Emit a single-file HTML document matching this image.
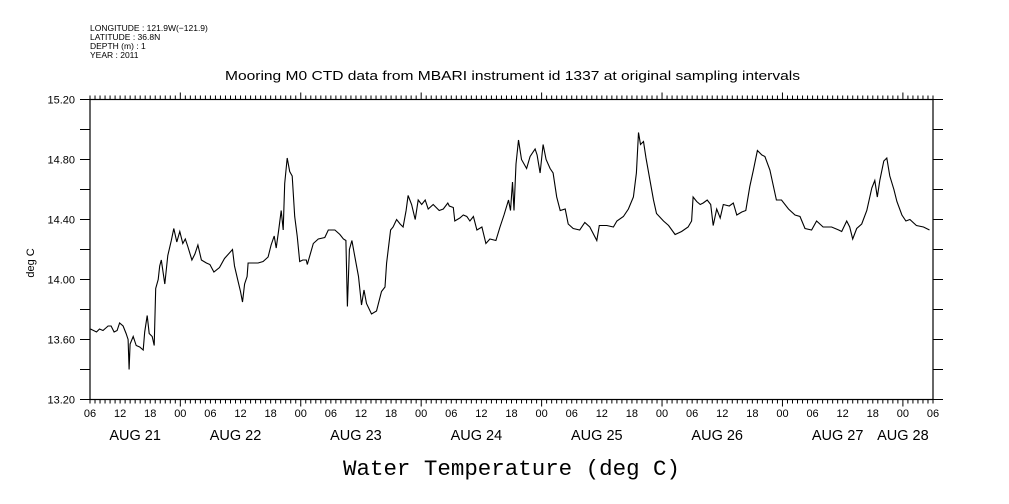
<!DOCTYPE html>
<html><head><meta charset="utf-8">
<style>
html,body{margin:0;padding:0;background:#fff;}
svg{display:block;}
text{fill:#000;}
</style></head>
<body>
<svg id="chart" width="1009" height="504" viewBox="0 0 1009 504" xmlns="http://www.w3.org/2000/svg">
  <g font-family="Liberation Sans, sans-serif" font-size="8.5">
    <text x="90" y="31">LONGITUDE : 121.9W(−121.9)</text>
    <text x="90" y="40">LATITUDE : 36.8N</text>
    <text x="90" y="49">DEPTH (m) : 1</text>
    <text x="90" y="58">YEAR : 2011</text>
  </g>
  <text x="225" y="80" textLength="575" lengthAdjust="spacingAndGlyphs" font-family="Liberation Sans, sans-serif" font-size="12.5">Mooring M0 CTD data from MBARI instrument id 1337 at original sampling intervals</text>
  <text transform="translate(34,263) rotate(-90)" text-anchor="middle" font-family="Liberation Sans, sans-serif" font-size="11">deg C</text>
  <text x="343" y="475" textLength="337" lengthAdjust="spacingAndGlyphs" font-family="Liberation Mono, monospace" font-size="22">Water Temperature (deg C)</text>
  <g id="axes"></g>
  <g id="series"></g>
</svg>
<script>
// Data: hours since Aug 21 06:00 (2011) and water temperature (deg C)
const hours = [0.1,1.3,1.9,2.6,3.6,4.2,4.8,5.4,5.9,6.6,7.2,7.6,7.8,8.0,8.6,9.2,9.9,10.6,10.9,11.4,11.8,12.4,12.8,13.1,13.6,13.9,14.2,14.9,15.5,16.2,16.7,17.3,17.9,18.5,19.0,19.5,20.3,20.9,21.5,22.2,23.2,23.9,24.7,25.8,26.8,28.4,28.8,29.5,30.0,30.4,30.8,31.3,31.5,32.5,33.5,34.5,35.5,36.1,36.7,37.1,37.6,38.1,38.5,38.8,39.3,39.8,40.3,40.8,41.3,41.8,42.4,43.1,43.3,
44.5,45.5,46.8,47.5,48.8,49.8,50.5,51.0,51.3,51.7,52.2,52.8,53.5,54.1,54.6,55.1,56.1,57.1,58.1,58.8,59.1,59.5,59.9,60.4,61.1,61.8,62.4,63.0,63.4,64.1,64.8,65.4,66.1,66.8,67.4,68.4,69.6,70.4,71.3,71.6,72.4,72.7,73.7,74.4,75.1,75.7,76.4,77.1,78.1,78.9,79.7,80.9,81.7,82.5,83.4,83.8,84.2,84.5,84.9,
85.4,86.0,87.0,87.7,88.7,89.1,89.7,90.3,90.9,91.7,92.3,93.0,93.7,94.7,95.3,96.3,97.6,98.6,99.6,101.0,101.5,103.0,104.3,105.0,106.3,107.3,108.3,108.9,109.3,109.7,110.3,110.8,111.6,112.3,112.9,114.3,115.3,116.6,117.9,119.2,119.9,120.2,120.9,121.6,122.2,123.0,123.7,124.2,124.9,125.6,126.2,127.4,
128.2,128.9,129.9,130.7,131.5,132.2,133.0,133.9,134.5,135.5,136.8,137.8,139.2,140.5,141.5,142.5,143.8,144.8,146.1,147.8,149.2,149.8,150.8,151.4,152.0,152.8,153.8,154.8,155.8,156.4,156.9,157.4,158.2,158.8,159.4,160.2,160.8,161.8,162.6,163.4,164.7,166.1,167.3];
const temps = [13.67,13.65,13.67,13.66,13.69,13.69,13.65,13.66,13.71,13.69,13.64,13.60,13.40,13.57,13.62,13.56,13.55,13.53,13.65,13.76,13.64,13.62,13.56,13.94,14.00,14.09,14.13,13.97,14.16,14.26,14.34,14.25,14.32,14.24,14.27,14.22,14.13,14.17,14.23,14.13,14.11,14.10,14.05,14.08,14.14,14.20,14.09,13.99,13.92,13.85,13.97,14.02,14.11,14.11,14.11,14.12,14.15,14.23,14.29,14.21,14.33,14.46,14.33,14.64,14.81,14.72,14.69,14.42,14.29,14.12,14.13,14.13,14.10,
14.24,14.27,14.28,14.33,14.33,14.30,14.27,14.26,13.82,14.20,14.26,14.15,14.02,13.83,13.93,13.84,13.77,13.79,13.92,13.95,14.11,14.22,14.33,14.35,14.40,14.37,14.35,14.46,14.56,14.50,14.40,14.53,14.50,14.53,14.47,14.50,14.46,14.47,14.51,14.49,14.48,14.39,14.41,14.43,14.42,14.39,14.42,14.33,14.35,14.24,14.27,14.26,14.35,14.43,14.53,14.46,14.65,14.46,14.77,
14.93,14.80,14.74,14.82,14.87,14.83,14.71,14.90,14.80,14.74,14.71,14.55,14.46,14.47,14.37,14.34,14.33,14.38,14.35,14.26,14.36,14.36,14.35,14.39,14.42,14.47,14.55,14.71,14.98,14.90,14.92,14.81,14.66,14.53,14.44,14.39,14.36,14.30,14.32,14.35,14.39,14.55,14.52,14.50,14.51,14.53,14.50,14.36,14.47,14.41,14.50,14.49,
14.51,14.43,14.45,14.46,14.62,14.73,14.86,14.83,14.82,14.73,14.53,14.53,14.47,14.43,14.42,14.34,14.33,14.39,14.35,14.35,14.33,14.32,14.39,14.35,14.27,14.34,14.37,14.46,14.61,14.66,14.55,14.66,14.79,14.81,14.69,14.60,14.52,14.43,14.39,14.40,14.36,14.35,14.33];
const yTickValues = [13.2,13.4,13.6,13.8,14.0,14.2,14.4,14.6,14.8,15.0,15.2];
const yTickLabels = ["13.20","","13.60","","14.00","","14.40","","14.80","","15.20"];
const hourLabels = ["06","12","18","00"];
const dateLabels = ["AUG 21","AUG 22","AUG 23","AUG 24","AUG 25","AUG 26","AUG 27","AUG 28"];
const dateCenters = [9,29,53,77,101,125,149,162];

const X0=90, X1=933, Y0=399.5, Y1=99.5, HMAX=168, TMIN=13.2, TMAX=15.2;
function xs(h){return X0+(h/HMAX)*(X1-X0);}
function ys(t){return Y0-(t-TMIN)/(TMAX-TMIN)*(Y0-Y1);}
const NS="http://www.w3.org/2000/svg";
const axes=document.getElementById('axes');
function mk(tag,attrs,parent){const e=document.createElementNS(NS,tag);for(const k in attrs)e.setAttribute(k,attrs[k]);parent.appendChild(e);return e;}

const frame=mk('rect',{x:X0,y:Y1,width:X1-X0,height:Y0-Y1,fill:'none',stroke:'#000','stroke-width':1.2},axes);



yTickValues.forEach((v,i)=>{
  const y=ys(v);
  const t1=mk('line',{x1:X0-10,x2:X0,y1:y,y2:y,stroke:'#000','stroke-width':1},axes);
  
  
  const t2=mk('line',{x1:X1,x2:X1+10,y1:y,y2:y,stroke:'#000','stroke-width':1},axes);
  
  
  if(yTickLabels[i]){
    const tx=mk('text',{x:X0-15,y:y+4,'text-anchor':'end','font-family':'Liberation Sans, sans-serif','font-size':11},axes);
    tx.textContent=yTickLabels[i];
    
    
  }
});
for(let h=0;h<=HMAX;h++){
  const x=xs(h);
  const major=((h+6)%24===0);
  const len=major?7:4;
  const b=mk('line',{x1:x,x2:x,y1:Y0,y2:Y0+len,stroke:'#000','stroke-width':1},axes);
  
  
  const t=mk('line',{x1:x,x2:x,y1:Y1,y2:Y1-len,stroke:'#000','stroke-width':1},axes);
  
  
  if(h%6===0){
    const tx=mk('text',{x:x,y:417,'text-anchor':'middle','font-family':'Liberation Sans, sans-serif','font-size':11},axes);
    tx.textContent=hourLabels[(h/6)%4];
    
    
  }
}
dateLabels.forEach((d,i)=>{
  const tx=mk('text',{x:xs(dateCenters[i]),y:440,'text-anchor':'middle','font-family':'Liberation Sans, sans-serif','font-size':14.5},axes);
  tx.textContent=d;
  
  
});
const pts=hours.map((h,i)=>xs(h).toFixed(1)+','+ys(temps[i]).toFixed(1)).join(' ');
const line=mk('polyline',{points:pts,fill:'none',stroke:'#000','stroke-width':1.1,'stroke-linejoin':'miter'},document.getElementById('series'));


</script>
</body></html>
